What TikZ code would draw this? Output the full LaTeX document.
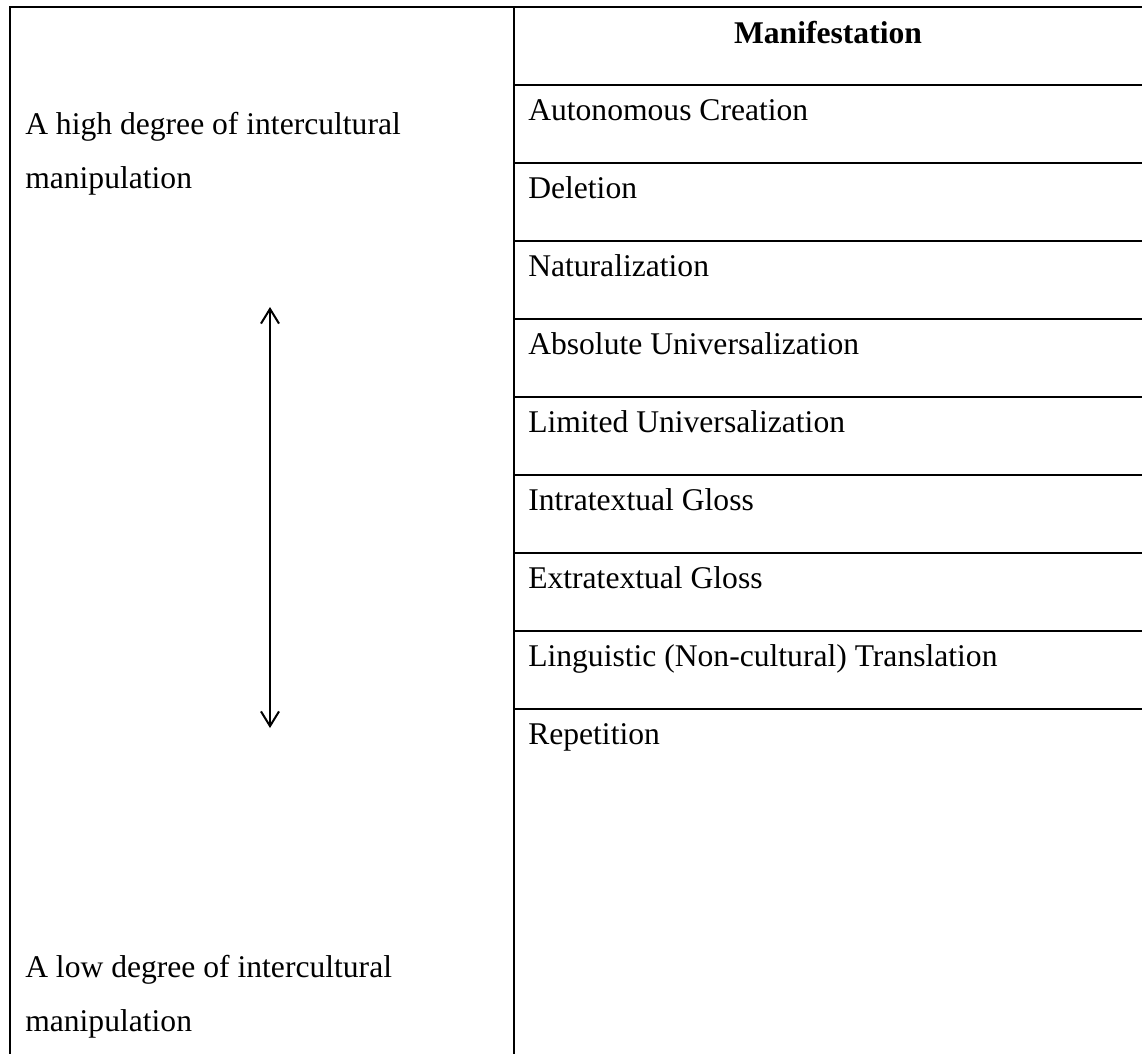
\documentclass[tikz,border=0pt]{standalone}
\usepackage{fontspec}
\setmainfont{Liberation Serif}
\usetikzlibrary{arrows.meta}
\begin{document}
\begin{tikzpicture}[x=0.75pt,y=-0.75pt,
  rule/.style={line width=1.5pt, line cap=rect},
  txt/.style={anchor=base west, inner sep=0pt, font=\fontsize{23.7}{28}\selectfont},
  head/.style={anchor=base, inner sep=0pt, font=\fontsize{23.7}{28}\selectfont\bfseries},
  dblarrow/.style={line width=1.5pt, {Straight Barb[length=11pt,width=13.5pt]}-{Straight Barb[length=11pt,width=13.5pt]}}]
\useasboundingbox (0,0) rectangle (1142,1053);
% frame
\draw[rule] (10,1053) -- (10,7) -- (1142,7);
\draw[rule] (514,7) -- (514,1053);
\foreach \k in {0,...,8} {
  \draw[rule] (514,{85+78*\k}) -- (1142,{85+78*\k});
}
% header
\node[head] (hdr) at (828,43) {Manifestation};
% rows
\node[txt] (r1) at (528,120) {Autonomous Creation};
\node[txt] (r2) at (528,198) {Deletion};
\node[txt] (r3) at (528,276) {Naturalization};
\node[txt] (r4) at (528,354) {Absolute Universalization};
\node[txt] (r5) at (528,432) {Limited Universalization};
\node[txt] (r6) at (528,510) {Intratextual Gloss};
\node[txt] (r7) at (528,588) {Extratextual Gloss};
\node[txt] (r8) at (528,666) {Linguistic (Non-cultural) Translation};
\node[txt] (r9) at (528,744) {Repetition};
% left texts
\node[txt] (hi1) at (25,134) {A high degree of intercultural};
\node[txt] (hi2) at (25,188) {manipulation};
\node[txt] (lo1) at (25,977) {A low degree of intercultural};
\node[txt] (lo2) at (25,1031) {manipulation};
% arrow
\coordinate (aTop) at (270,307);
\coordinate (aBot) at (270,728);
\draw[dblarrow] (aBot) -- (aTop);
\end{tikzpicture}
\end{document}
